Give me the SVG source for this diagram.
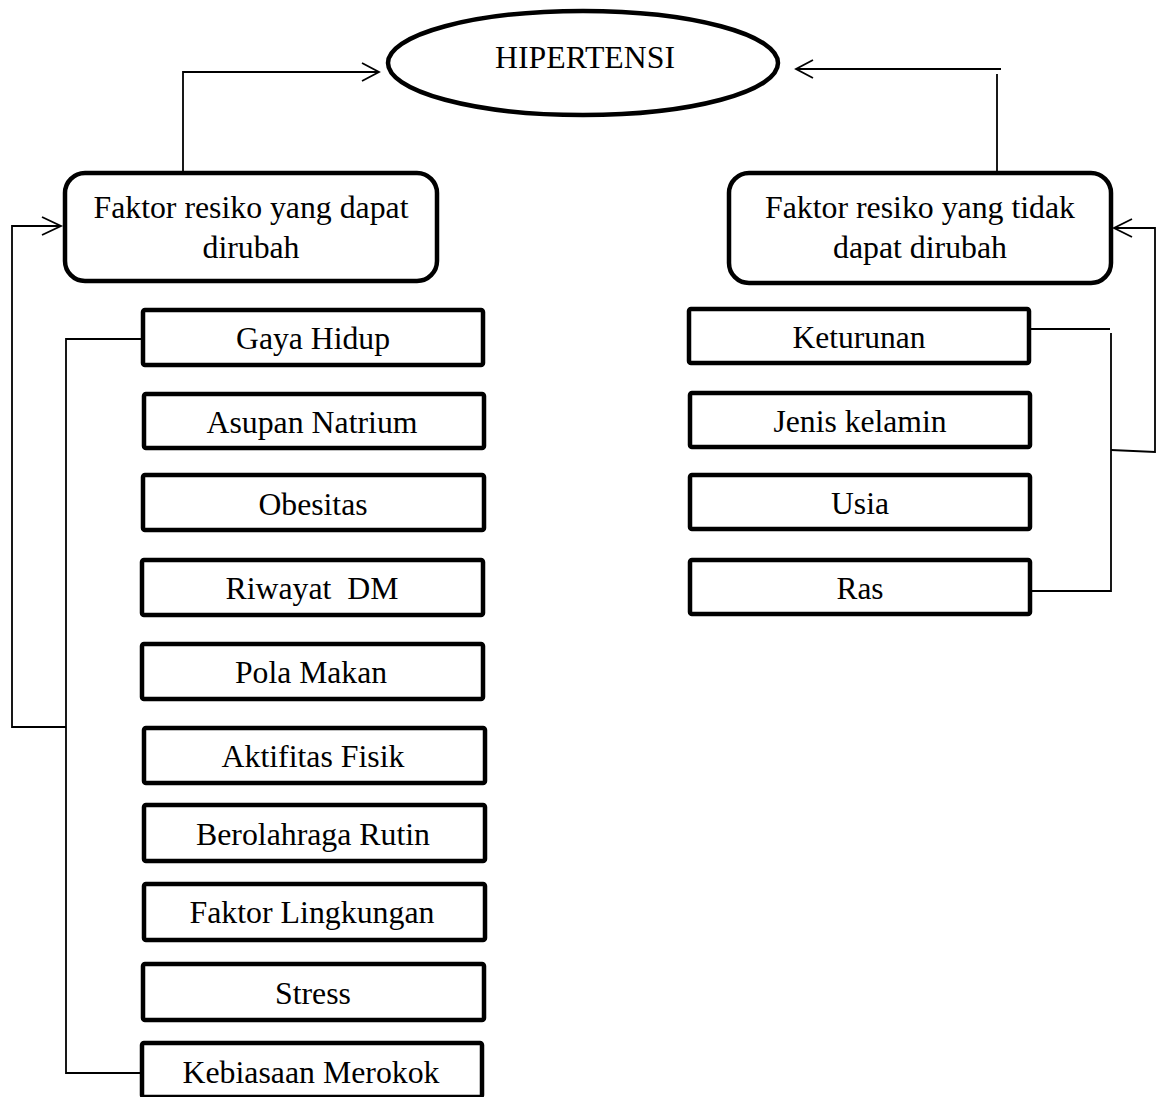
<svg xmlns="http://www.w3.org/2000/svg" width="1159" height="1097" viewBox="0 0 1159 1097">
<style>
text{font-family:'Times New Roman','Liberation Serif',Tinos,'Nimbus Roman','Nimbus Roman No9 L','Noto Serif',FreeSerif,Times,serif;font-size:30.5px;fill:#000;text-anchor:middle}
.box{fill:#fff;stroke:#000;stroke-width:4.5}
.rbox{fill:#fff;stroke:#000;stroke-width:4.5}
.ln{fill:none;stroke:#000;stroke-width:1.8}
.ah{fill:none;stroke:#000;stroke-width:1.8;stroke-linejoin:miter}
</style>
<rect width="1159" height="1097" fill="#fff"/>
<g id="connectors">
<path class="ln" d="M183,171 V72 H378"/>
<path class="ah" d="M362,63 L379,72 L362,81"/>
<path class="ln" d="M997,171 V74"/>
<path class="ln" d="M1001,69 H797"/>
<path class="ah" d="M813,60 L796,69 L813,78"/>
<path class="ln" d="M141,339 H66 V1073 H141"/>
<path class="ln" d="M66,727 H12 V226 H60"/>
<path class="ah" d="M42,217 L61,226 L42,235"/>
<path class="ln" d="M1031,329 H1110"/>
<path class="ln" d="M1111,333 V591 H1031"/>
<path class="ln" d="M1111,450 L1155,452 V228 H1115"/>
<path class="ah" d="M1132,219 L1114,228 L1132,237"/>
</g>
<g id="hipertensi">
<ellipse cx="583" cy="63" rx="195" ry="52" fill="#fff" stroke="#000" stroke-width="4.5"/>
<text x="585" y="68" textLength="180" lengthAdjust="spacingAndGlyphs">HIPERTENSI</text>
</g>
<g id="faktor-dapat">
<rect class="rbox" x="65" y="173" width="372" height="108" rx="20"/>
<text x="251" y="218" textLength="315" lengthAdjust="spacingAndGlyphs">Faktor resiko yang dapat</text>
<text x="251" y="258" textLength="97" lengthAdjust="spacingAndGlyphs">dirubah</text>
</g>
<g id="faktor-tidak">
<rect class="rbox" x="729" y="173" width="382" height="110" rx="20"/>
<text x="920" y="218" textLength="310" lengthAdjust="spacingAndGlyphs">Faktor resiko yang tidak</text>
<text x="920" y="258" textLength="174" lengthAdjust="spacingAndGlyphs">dapat dirubah</text>
</g>
<g id="gaya-hidup"><rect class="box" x="143" y="310" width="340" height="55" rx="2"/><text x="313" y="349" textLength="154" lengthAdjust="spacingAndGlyphs">Gaya Hidup</text></g>
<g id="asupan-natrium"><rect class="box" x="144" y="394" width="340" height="54" rx="2"/><text x="312" y="433" textLength="211" lengthAdjust="spacingAndGlyphs">Asupan Natrium</text></g>
<g id="obesitas"><rect class="box" x="143" y="475" width="341" height="55" rx="2"/><text x="313" y="515" textLength="109" lengthAdjust="spacingAndGlyphs">Obesitas</text></g>
<g id="riwayat-dm"><rect class="box" x="142" y="560" width="341" height="55" rx="2"/><text x="312" y="599" xml:space="preserve" textLength="173" lengthAdjust="spacingAndGlyphs">Riwayat  DM</text></g>
<g id="pola-makan"><rect class="box" x="142" y="644" width="341" height="55" rx="2"/><text x="311" y="683" textLength="152" lengthAdjust="spacingAndGlyphs">Pola Makan</text></g>
<g id="aktifitas-fisik"><rect class="box" x="144" y="728" width="341" height="55" rx="2"/><text x="313" y="767" textLength="183" lengthAdjust="spacingAndGlyphs">Aktifitas Fisik</text></g>
<g id="berolahraga-rutin"><rect class="box" x="144" y="805" width="341" height="56" rx="2"/><text x="313" y="845" textLength="234" lengthAdjust="spacingAndGlyphs">Berolahraga Rutin</text></g>
<g id="faktor-lingkungan"><rect class="box" x="144" y="884" width="341" height="56" rx="2"/><text x="312" y="923" textLength="245" lengthAdjust="spacingAndGlyphs">Faktor Lingkungan</text></g>
<g id="stress"><rect class="box" x="143" y="964" width="341" height="56" rx="2"/><text x="313" y="1004" textLength="76" lengthAdjust="spacingAndGlyphs">Stress</text></g>
<g id="kebiasaan-merokok"><rect class="box" x="142" y="1043" width="340" height="54" rx="2"/><text x="311" y="1083" textLength="257" lengthAdjust="spacingAndGlyphs">Kebiasaan Merokok</text></g>
<g id="keturunan"><rect class="box" x="689" y="309" width="340" height="54" rx="2"/><text x="859" y="348" textLength="133" lengthAdjust="spacingAndGlyphs">Keturunan</text></g>
<g id="jenis-kelamin"><rect class="box" x="690" y="393" width="340" height="54" rx="2"/><text x="860" y="432" textLength="173" lengthAdjust="spacingAndGlyphs">Jenis kelamin</text></g>
<g id="usia"><rect class="box" x="690" y="475" width="340" height="54" rx="2"/><text x="860" y="514" textLength="58" lengthAdjust="spacingAndGlyphs">Usia</text></g>
<g id="ras"><rect class="box" x="690" y="560" width="340" height="54" rx="2"/><text x="860" y="599" textLength="47" lengthAdjust="spacingAndGlyphs">Ras</text></g>
</svg>
